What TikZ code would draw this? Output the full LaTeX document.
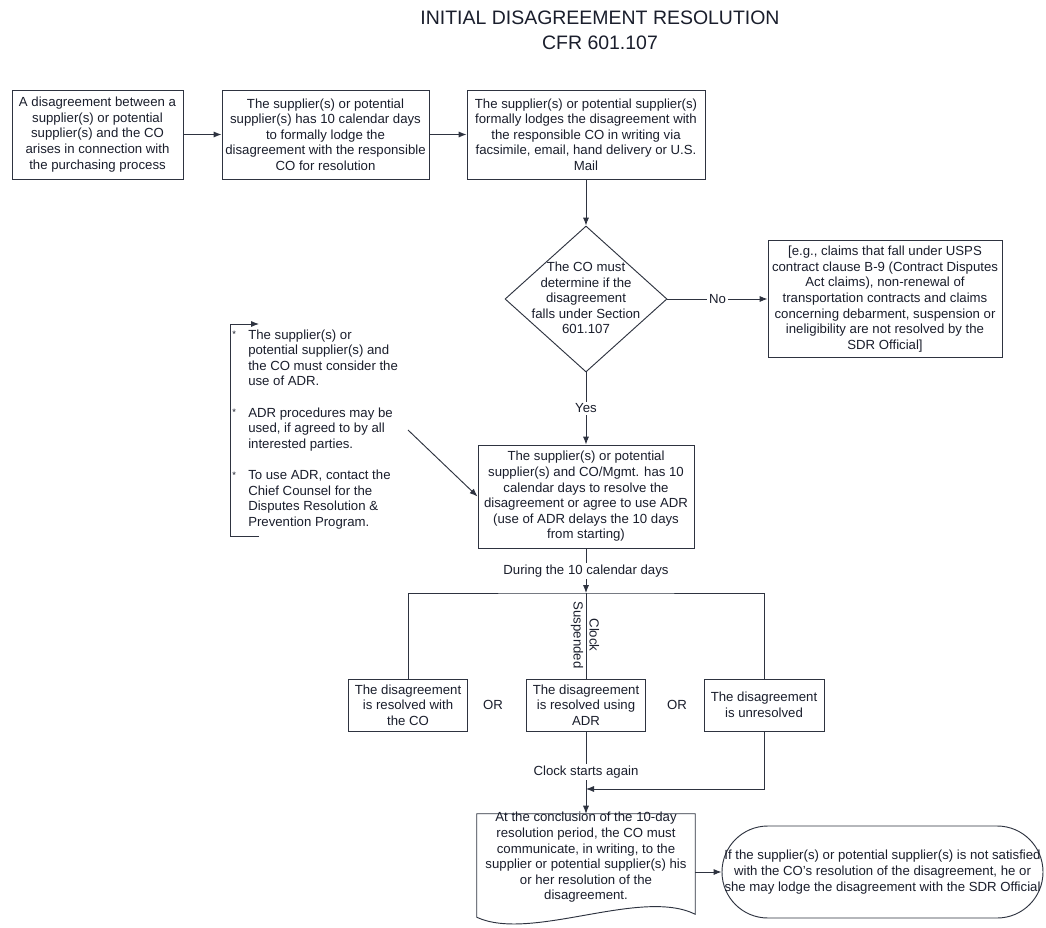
\documentclass[tikz,border=0pt]{standalone}
\usepackage{fontspec}
\setmainfont{Liberation Sans}
\usetikzlibrary{arrows.meta,shapes.geometric,calc}
\definecolor{ink}{HTML}{1A1E2C}
\definecolor{edge}{HTML}{2E3340}
\newcommand{\bulmark}{\makebox[12pt][l]{\raisebox{1pt}{\fontsize{7}{7}\selectfont *}}}
\begin{document}
\begin{tikzpicture}[x=0.75pt,y=-0.75pt,
  font=\fontsize{9.9}{11.7}\selectfont, text=ink,
  box/.style={draw=edge, line width=0.7pt, align=center, inner sep=1pt},
  decision/.style={draw=edge, line width=0.7pt, diamond, inner sep=0pt, minimum width=121.5pt, minimum height=109.5pt},
  txt/.style={align=center, inner sep=0pt},
  arr/.style={draw=edge, line width=0.7pt, -{Latex[length=6pt,width=4.6pt]}},
  ln/.style={draw=edge, line width=0.7pt},
  lbl/.style={fill=white, inner sep=1.5pt}]
\useasboundingbox (0,0) rectangle (1046,928);
\fill[white] (0,0) rectangle (1046,928);

% title
\node[txt, font=\fontsize{14.6}{18.75}\selectfont] (title) at (600,30.5) {INITIAL DISAGREEMENT RESOLUTION\\CFR 601.107};

% top row
\node[box, minimum width=128.25pt, minimum height=66.75pt] (b1) at (97.5,134.5)
  {A disagreement between a\\supplier(s) or potential\\supplier(s) and the CO\\arises in connection with\\the purchasing process};
\node[box, minimum width=155.25pt, minimum height=66.75pt] (b2) at (325.5,134.5)
  {The supplier(s) or potential\\supplier(s) has 10 calendar days\\to formally lodge the\\disagreement with the responsible\\CO for resolution};
\node[box, minimum width=178.5pt, minimum height=66.75pt] (b3) at (586,134.5)
  {The supplier(s) or potential supplier(s)\\formally lodges the disagreement with\\the responsible CO in writing via\\facsimile, email, hand delivery or U.S.\\Mail};

% decision
\node[decision] (dec) at (586,299) {};
\node[txt] (dectext) at (586,298) {The CO must\\determine if the\\disagreement\\falls under Section\\601.107};
\node[box, minimum width=175.5pt, minimum height=87.75pt] (nob) at (885,299)
  {[e.g., claims that fall under USPS\\contract clause B-9 (Contract Disputes\\Act claims), non-renewal of\\transportation contracts and claims\\concerning debarment, suspension or\\ineligibility are not resolved by the\\SDR Official]};

% resolution period box
\node[box, minimum width=162pt, minimum height=77.25pt] (b4) at (586,496.5)
  {The supplier(s) or potential\\supplier(s) and CO/Mgmt. has 10\\calendar days to resolve the\\disagreement or agree to use ADR\\(use of ADR delays the 10 days\\from starting)};

% ADR note
\node[anchor=north west, inner sep=0pt, align=left] (adr) at (232,328) {%
\begin{tabular}{@{}l@{}l@{}}
\bulmark & The supplier(s) or\\
 & potential supplier(s) and\\
 & the CO must consider the\\
 & use of ADR.\\[11.7pt]
\bulmark & ADR procedures may be\\
 & used, if agreed to by all\\
 & interested parties.\\[11.7pt]
\bulmark & To use ADR, contact the\\
 & Chief Counsel for the\\
 & Disputes Resolution \&\\
 & Prevention Program.
\end{tabular}};
\coordinate (brT) at (259,324);
\coordinate (brB) at (259,536);
\draw[arr] (brB) -- ++(-29,0) |- (brT);
\coordinate (adrA) at (408,430);
\draw[arr] (adrA) -- (b4.west);

% outcome boxes
\node[box, minimum width=89.25pt, minimum height=39pt] (b5) at (408,705)
  {The disagreement\\is resolved with\\the CO};
\node[box, minimum width=89.25pt, minimum height=39pt] (b6) at (586,705)
  {The disagreement\\is resolved using\\ADR};
\node[box, minimum width=90pt, minimum height=39pt] (b7) at (764,705)
  {The disagreement\\is unresolved};
\node[txt] (or1) at (493,705) {OR};
\node[txt] (or2) at (677,705) {OR};

% document shape
\node[minimum width=163.5pt, minimum height=73.5pt, inner sep=0pt] (doc) at (586,863) {};
\draw[ln] ($(doc.south west)+(0,5)$) -- (doc.north west) -- (doc.north east) -- ($(doc.south east)+(0,2)$)
  .. controls ($(doc.south)+(55,-25)$) and ($(doc.south)+(-55,30)$) .. ($(doc.south west)+(0,5)$);
\node[txt] (doctext) at (586,857.5) {At the conclusion of the 10-day\\resolution period, the CO must\\communicate, in writing, to the\\supplier or potential supplier(s) his\\or her resolution of the\\disagreement.};

% terminal
\node[box, rounded corners=34.4pt, minimum width=240.75pt, minimum height=69pt, inner sep=0pt] (term) at (882.5,872)
  {If the supplier(s) or potential supplier(s) is not satisfied\\with the CO's resolution of the disagreement, he or\\she may lodge the disagreement with the SDR Official};

% connectors
\draw[arr] (b1) -- (b2);
\draw[arr] (b2) -- (b3);
\draw[arr] (b3.south) -- (dec.north);
\draw[arr] (dec.east) -- node[lbl]{No} (nob.west);
\draw[arr] (dec.south) -- node[lbl]{Yes} (b4.north);
\coordinate (branch) at (586,593);
\draw[arr] (b4.south) -- node[lbl]{During the 10 calendar days} (branch);
\draw[ln] (b5.north) |- (branch) -| (b7.north);
\draw[ln] (b6.north) -- (branch);
\node[txt, rotate=-90] (clk) at (585,635) {Clock\\[0.4pt]Suspended};
\draw[arr] (b6.south) -- node[lbl, pos=0.49]{Clock starts again} (doc.north);
\coordinate (merge) at (586,789);
\draw[arr] (b7.south) |- (merge);
\draw[arr] (term.west -| doc.east) -- (term.west);
\end{tikzpicture}
\end{document}
